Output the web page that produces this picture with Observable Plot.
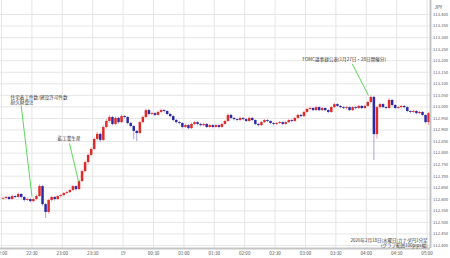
<!DOCTYPE html>
<html><head><meta charset="utf-8">
<script src="https://cdn.jsdelivr.net/npm/d3@7"></script>
<script src="https://cdn.jsdelivr.net/npm/@observablehq/plot@0.6"></script>
<style>
html,body{margin:0;padding:0;background:#fff;}
#chart{width:450px;height:258px;overflow:hidden;}
</style></head><body><div id="chart"></div>
<script>
// CAD/JPY, 3-minute bars from 22:00 (minutes since 22:00)
const barMinutes = 3;
const firstOpen = 112.600;
const closes = [
112.603,112.608,112.599,112.612,112.608,112.621,112.608,112.595,112.599,112.590,
112.599,112.612,112.655,112.577,112.543,112.595,112.608,112.599,112.612,112.616,
112.625,112.629,112.638,112.655,112.642,112.677,112.720,112.759,112.790,112.816,
112.859,112.881,112.855,112.911,112.937,112.954,112.924,112.950,112.932,112.958,
112.954,112.928,112.915,112.894,112.885,112.932,112.954,112.984,112.967,112.971,
112.963,112.976,112.984,112.980,112.967,112.958,112.941,112.932,112.928,112.911,
112.919,112.906,112.924,112.932,112.924,112.919,112.924,112.911,112.919,112.911,
112.919,112.911,112.924,112.937,112.963,112.950,112.945,112.941,112.950,112.945,
112.937,112.950,112.941,112.924,112.919,112.932,112.941,112.937,112.928,112.924,
112.928,112.932,112.924,112.932,112.941,112.937,112.950,112.963,112.958,112.976,
112.989,112.993,112.984,112.997,112.984,112.993,112.984,112.976,112.997,113.010,
113.002,112.997,112.993,112.997,112.984,112.997,112.993,113.002,112.993,113.002,
113.019,113.041,112.880,112.997,113.010,112.997,112.993,113.028,113.006,112.993,
112.997,113.002,112.997,112.980,112.976,112.980,112.971,112.976,112.963,112.932,
112.971];
const highs = [
112.610,112.614,112.612,112.618,112.616,112.627,112.624,112.611,112.605,112.603,
112.606,112.618,112.663,112.660,112.582,112.600,112.614,112.612,112.617,112.622,
112.630,112.635,112.643,112.661,112.658,112.683,112.727,112.766,112.797,112.823,
112.866,112.890,112.886,112.918,112.945,112.962,112.959,112.957,112.955,112.965,
112.963,112.958,112.933,112.919,112.898,112.938,112.960,112.991,112.989,112.977,
112.975,112.982,112.990,112.988,112.984,112.971,112.962,112.946,112.937,112.932,
112.925,112.923,112.930,112.938,112.936,112.929,112.930,112.928,112.925,112.923,
112.924,112.922,112.929,112.942,112.970,112.968,112.955,112.950,112.955,112.954,
112.949,112.956,112.954,112.944,112.928,112.938,112.946,112.945,112.940,112.932,
112.933,112.937,112.936,112.937,112.946,112.945,112.955,112.969,112.967,112.982,
112.995,112.999,112.997,113.003,113.001,112.998,112.996,112.988,113.003,113.017,
113.014,113.006,113.001,113.002,113.000,113.002,113.001,113.007,113.006,113.007,
113.025,113.049,113.045,113.003,113.016,113.014,113.001,113.036,113.031,113.010,
113.003,113.007,113.006,113.000,112.985,112.986,112.984,112.981,112.979,112.966,
112.976];
const lows = [
112.596,112.600,112.594,112.596,112.603,112.605,112.602,112.588,112.590,112.584,
112.585,112.595,112.608,112.570,112.517,112.536,112.588,112.592,112.595,112.606,
112.611,112.620,112.624,112.634,112.636,112.638,112.672,112.714,112.752,112.784,
112.810,112.852,112.846,112.850,112.905,112.930,112.918,112.919,112.926,112.928,
112.948,112.922,112.909,112.858,112.850,112.880,112.927,112.949,112.961,112.962,
112.957,112.959,112.971,112.974,112.962,112.953,112.935,112.926,112.922,112.905,
112.906,112.900,112.902,112.919,112.918,112.913,112.914,112.906,112.906,112.905,
112.907,112.905,112.907,112.920,112.933,112.945,112.939,112.936,112.937,112.940,
112.932,112.933,112.936,112.919,112.913,112.915,112.928,112.932,112.923,112.918,
112.919,112.923,112.919,112.920,112.928,112.931,112.933,112.946,112.953,112.954,
112.971,112.984,112.979,112.980,112.979,112.980,112.979,112.971,112.972,112.993,
112.997,112.992,112.988,112.988,112.979,112.980,112.987,112.989,112.988,112.989,
112.998,113.014,112.768,112.860,112.991,112.992,112.987,112.989,113.000,112.988,
112.988,112.992,112.991,112.975,112.970,112.971,112.966,112.967,112.958,112.926,
112.919];

const tickMinutes = [0,30,60,90,120,150,180,210,240,270,300,330,360,390,420];
const tickLabels = ["22:00","22:30","23:00","23:30","19","00:30","01:00","01:30","02:00","02:30","03:00","03:30","04:00","04:30","05:00"];
const priceTicks = [112.40,112.45,112.50,112.55,112.60,112.65,112.70,112.75,112.80,112.85,112.90,112.95,113.00,113.05,113.10,113.15,113.20,113.25,113.30,113.35,113.40];

const annLabels = ["住宅着工件数/建設許可件数\n耐久財受注","鉱工業生産","FOMC議事録公表(1月27日・28日開催分)"];
const annTextMin = [9, 55.3, 297];
const annTextPrice = [113.030, 112.863, 113.205];
const annFromMin = [19.4, 67.1, 346.1];
const annFromPrice = [113.006, 112.842, 113.187];
const annToMin = [30.1, 76.0, 362.2];
const annToPrice = [112.612, 112.677, 113.049];

const captionText = "2026年2月18日(水曜日)カナダ円1分足\n(グラフ範囲100pips幅)";
const currencyLabel = "JPY";

const xDomain = [-0.987, 423.37];
const yDomain = [112.387, 113.4606];

const candles = closes.map((c, i) => ({
  t: i * barMinutes + barMinutes / 2,
  open: i ? closes[i - 1] : firstOpen,
  close: c, high: highs[i], low: lows[i]
}));
const anns = annLabels.map((l, i) => ({
  label: l, tx: annTextMin[i], ty: annTextPrice[i],
  x1: annFromMin[i], y1: annFromPrice[i], x2: annToMin[i], y2: annToPrice[i]
}));

const upBody = "#e02a2a", downBody = "#2a2aa8";
const upWick = "#f2a0a8", downWick = "#a8a0dc";

const chart = Plot.plot({
  width: 450, height: 258,
  marginLeft: 0, marginRight: 20, marginTop: 0, marginBottom: 10,
  style: {fontFamily: "'Noto Sans CJK JP', 'Noto Sans', sans-serif", fontSize: "5px", background: "#fff", color: "#555"},
  x: {domain: xDomain, axis: null},
  y: {domain: yDomain, axis: null},
  marks: [
    Plot.gridX(tickMinutes, {stroke: "#e6e6e6", strokeOpacity: 1}),
    Plot.gridY(priceTicks, {stroke: "#e6e6e6", strokeOpacity: 1}),
    Plot.ruleX(candles, {x: "t", y1: "low", y2: "high", stroke: d => d.close >= d.open ? upWick : downWick, strokeWidth: 1, clip: true}),
    Plot.ruleX(candles, {x: "t", y1: "open", y2: "close", stroke: d => d.close >= d.open ? upBody : downBody, strokeWidth: 2.5, clip: true}),
    Plot.link(anns, {x1: "x1", y1: "y1", x2: "x2", y2: "y2", stroke: "#5ad85a", strokeWidth: 1}),
    Plot.text(anns, {x: "tx", y: "ty", text: "label", textAnchor: "start", lineAnchor: "middle", fontSize: 4.6, lineHeight: 1.1, fill: "#333"}),
    Plot.ruleY([yDomain[0]], {stroke: "#c4c4c4", strokeWidth: 2}),
    Plot.ruleX([xDomain[1]], {stroke: "#c4c4c4", strokeWidth: 2}),
    Plot.axisX(tickMinutes, {anchor: "bottom", tickSize: 0, tickPadding: 3, tickFormat: d => tickLabels[tickMinutes.indexOf(d)], fontSize: 4.6, fill: "#555", label: null}),
    Plot.axisY(priceTicks, {anchor: "right", tickSize: 0, tickPadding: 2.5, tickFormat: d => d.toFixed(3), fontSize: 4.2, fill: "#555", label: null}),
    Plot.text([currencyLabel], {frameAnchor: "top-right", dx: 4, dy: 5, textAnchor: "start", fontSize: 4.6, fill: "#444"}),
    Plot.text([captionText], {frameAnchor: "bottom-right", dx: -3, dy: -1.5, textAnchor: "end", lineAnchor: "bottom", fontSize: 4.5, lineHeight: 1.15, fill: "#333"})
  ]
});
document.getElementById("chart").appendChild(chart);
</script></body></html>
